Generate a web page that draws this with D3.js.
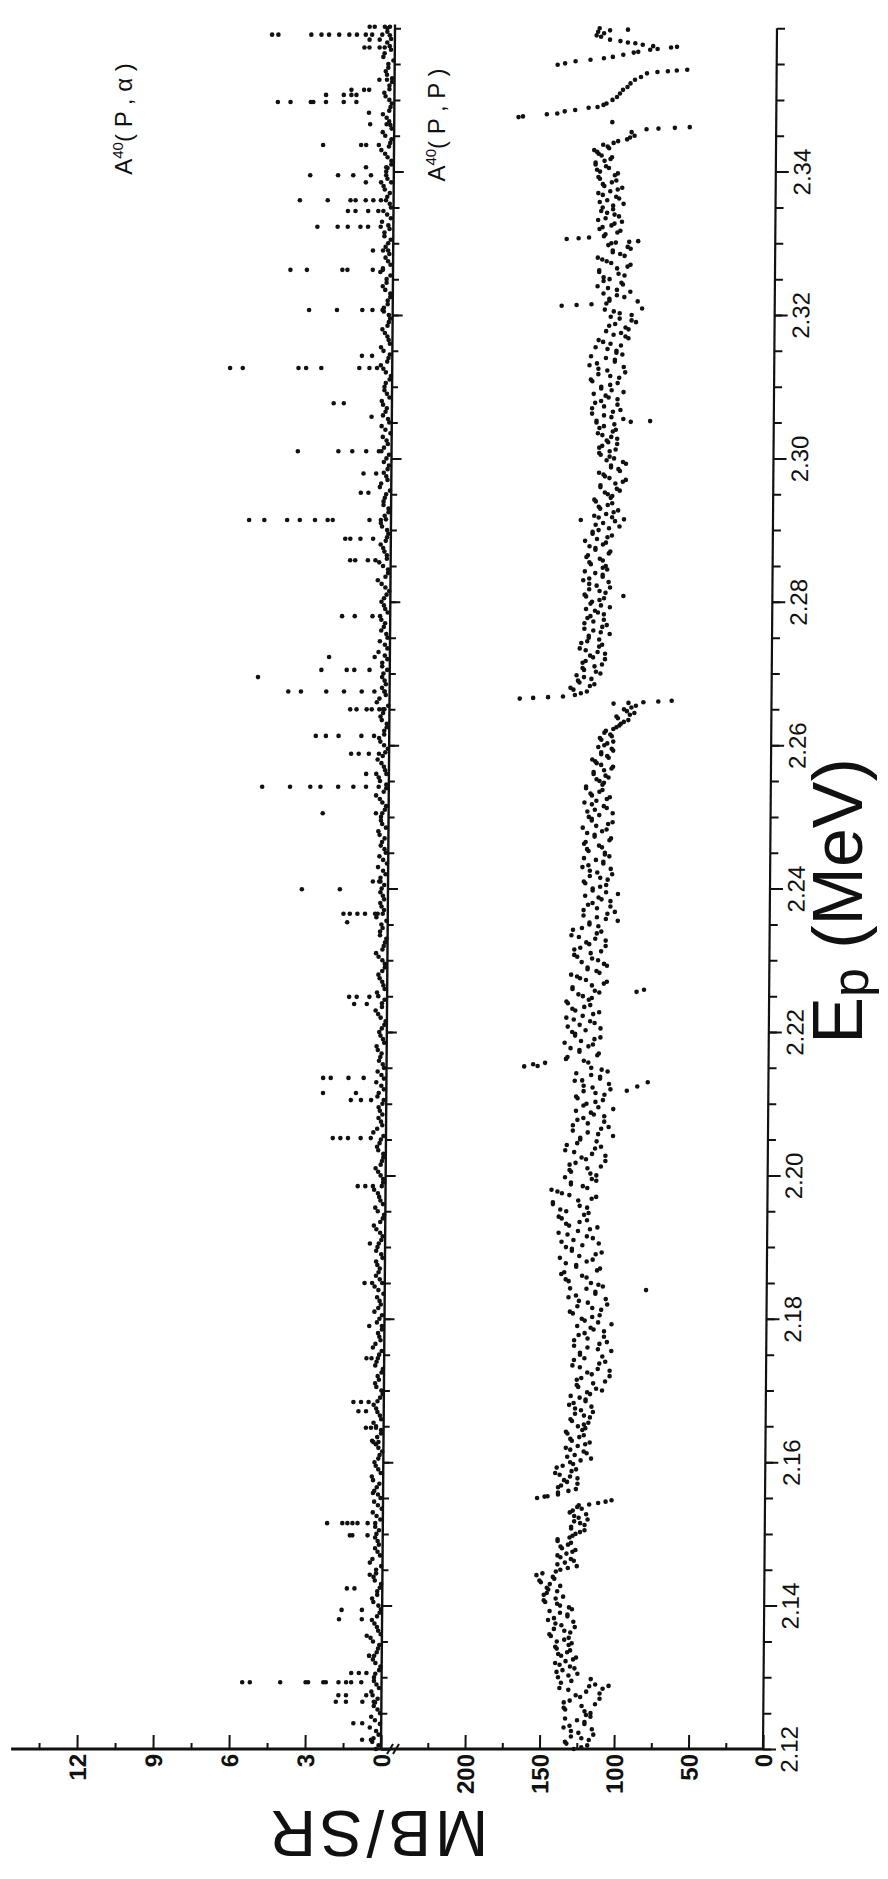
<!DOCTYPE html>
<html>
<head>
<meta charset="utf-8">
<script src="https://cdn.jsdelivr.net/npm/d3@7"></script>
<style>
  html, body { margin: 0; padding: 0; background: #fff; }
  svg { display: block; }
  text { font-family: "Liberation Sans", Arial, sans-serif; fill: #111; }
</style>
</head>
<body>
<svg id="chart" width="888" height="1879"></svg>
<script>
// ---- Axis ticks ----
const epLabels = [2.12, 2.14, 2.16, 2.18, 2.20, 2.22, 2.24, 2.26, 2.28, 2.30, 2.32, 2.34];
const alphaTicks = [0, 3, 6, 9, 12];
const alphaMinor = [1.5, 4.5, 7.5, 10.5, 13.5];
const protonTicks = [0, 50, 100, 150, 200];
const protonMinor = [25, 75, 125, 175, 225];

// ---- A40(p,α): background points close to zero, [Ep (MeV), mb/sr] ----
const alphaBackground = [
  [2.120,0.2],[2.121,0.35],[2.122,0.1],[2.123,0.45],[2.124,0.25],[2.125,0.05],[2.126,0.3],[2.127,0.15],[2.128,0.4],[2.129,0.2],
  [2.130,0.3],[2.131,0.1],[2.132,0.25],[2.133,0.5],[2.134,0.15],[2.135,0.35],[2.136,0.05],[2.137,0.2],[2.138,0.4],[2.139,0.1],
  [2.140,0.15],[2.141,0.4],[2.142,0.2],[2.143,0.05],[2.144,0.35],[2.145,0.25],[2.146,0.5],[2.147,0.1],[2.148,0.3],[2.149,0.2],
  [2.150,0.25],[2.151,0.3],[2.152,0.1],[2.153,0.4],[2.154,0.2],[2.155,0.1],[2.156,0.35],[2.157,0.15],[2.158,0.45],[2.159,0.2],
  [2.160,0.35],[2.161,0.15],[2.162,0.2],[2.163,0.45],[2.164,0.1],[2.165,0.3],[2.166,0.1],[2.167,0.25],[2.168,0.4],[2.169,0.15],
  [2.170,0.1],[2.171,0.35],[2.172,0.25],[2.173,0.05],[2.174,0.3],[2.175,0.2],[2.176,0.45],[2.177,0.15],[2.178,0.25],[2.179,0.1],
  [2.180,0.2],[2.181,0.4],[2.182,0.15],[2.183,0.3],[2.184,0.25],[2.185,0.1],[2.186,0.35],[2.187,0.2],[2.188,0.35],[2.189,0.15],
  [2.190,0.3],[2.191,0.15],[2.192,0.2],[2.193,0.45],[2.194,0.1],[2.195,0.3],[2.196,0.1],[2.197,0.25],[2.198,0.45],[2.199,0.1],
  [2.200,0.2],[2.201,0.4],[2.202,0.15],[2.203,0.1],[2.204,0.35],[2.205,0.2],[2.206,0.5],[2.207,0.15],[2.208,0.3],[2.209,0.25],
  [2.210,0.15],[2.211,0.35],[2.212,0.1],[2.213,0.4],[2.214,0.2],[2.215,0.1],[2.216,0.3],[2.217,0.2],[2.218,0.4],[2.219,0.15],
  [2.220,0.3],[2.221,0.1],[2.222,0.25],[2.223,0.45],[2.224,0.2],[2.225,0.35],[2.226,0.1],[2.227,0.2],[2.228,0.35],[2.229,0.1],
  [2.230,0.2],[2.231,0.45],[2.232,0.15],[2.233,0.05],[2.234,0.3],[2.235,0.25],[2.236,0.45],[2.237,0.15],[2.238,0.3],[2.239,0.2],
  [2.240,0.25],[2.241,0.35],[2.242,0.1],[2.243,0.4],[2.244,0.2],[2.245,0.1],[2.246,0.3],[2.247,0.15],[2.248,0.4],[2.249,0.25],
  [2.250,0.3],[2.251,0.15],[2.252,0.25],[2.253,0.5],[2.254,0.1],[2.255,0.35],[2.256,0.1],[2.257,0.2],[2.258,0.45],[2.259,0.15],
  [2.260,0.2],[2.261,0.4],[2.262,0.2],[2.263,0.1],[2.264,0.35],[2.265,0.25],[2.266,0.5],[2.267,0.15],[2.268,0.3],[2.269,0.2],
  [2.270,0.25],[2.271,0.3],[2.272,0.1],[2.273,0.45],[2.274,0.2],[2.275,0.1],[2.276,0.35],[2.277,0.2],[2.278,0.4],[2.279,0.2],
  [2.280,0.35],[2.281,0.15],[2.282,0.2],[2.283,0.5],[2.284,0.1],[2.285,0.3],[2.286,0.15],[2.287,0.25],[2.288,0.4],[2.289,0.15],
  [2.290,0.15],[2.291,0.4],[2.292,0.25],[2.293,0.1],[2.294,0.3],[2.295,0.2],[2.296,0.45],[2.297,0.15],[2.298,0.3],[2.299,0.1],
  [2.300,0.2],[2.301,0.4],[2.302,0.15],[2.303,0.35],[2.304,0.25],[2.305,0.1],[2.306,0.35],[2.307,0.2],[2.308,0.4],[2.309,0.2],
  [2.310,0.3],[2.311,0.1],[2.312,0.25],[2.313,0.45],[2.314,0.15],[2.315,0.35],[2.316,0.1],[2.317,0.2],[2.318,0.4],[2.319,0.15],
  [2.320,0.15],[2.321,0.35],[2.322,0.2],[2.323,0.1],[2.324,0.4],[2.325,0.25],[2.326,0.5],[2.327,0.1],[2.328,0.3],[2.329,0.2],
  [2.330,0.2],[2.331,0.35],[2.332,0.15],[2.333,0.45],[2.334,0.25],[2.335,0.1],[2.336,0.3],[2.337,0.15],[2.338,0.4],[2.339,0.25],
  [2.340,0.3],[2.341,0.1],[2.342,0.25],[2.343,0.5],[2.344,0.15],[2.345,0.35],[2.346,0.1],[2.347,0.2],[2.348,0.45],[2.349,0.15],
  [2.350,0.2],[2.351,0.4],[2.352,0.2],[2.353,0.1],[2.354,0.35],[2.355,0.25],[2.356,0.45],[2.357,0.15],[2.358,0.3],[2.359,0.2],
  [2.360,0.3]
];

// Background readings taken between the points above
const alphaBackgroundMid = [
  [2.1205,0.1],[2.1215,0.3],[2.1225,0.2],[2.1235,0.05],[2.1245,0.4],[2.1255,0.15],[2.1265,0.25],[2.1275,0.35],[2.1285,0.1],[2.1295,0.3],
  [2.1305,0.25],[2.1315,0.05],[2.1325,0.35],[2.1335,0.2],[2.1345,0.1],[2.1355,0.45],[2.1365,0.15],[2.1375,0.3],[2.1385,0.2],[2.1395,0.05],
  [2.1405,0.35],[2.1415,0.2],[2.1425,0.1],[2.1435,0.3],[2.1445,0.25],[2.1455,0.05],[2.1465,0.4],[2.1475,0.2],[2.1485,0.15],[2.1495,0.3],
  [2.1505,0.15],[2.1515,0.3],[2.1525,0.25],[2.1535,0.05],[2.1545,0.35],[2.1555,0.2],[2.1565,0.25],[2.1575,0.4],[2.1585,0.1],[2.1595,0.3],
  [2.1605,0.2],[2.1615,0.05],[2.1625,0.3],[2.1635,0.25],[2.1645,0.1],[2.1655,0.4],[2.1665,0.15],[2.1675,0.3],[2.1685,0.25],[2.1695,0.05],
  [2.1705,0.3],[2.1715,0.2],[2.1725,0.1],[2.1735,0.35],[2.1745,0.25],[2.1755,0.1],[2.1765,0.35],[2.1775,0.2],[2.1785,0.1],[2.1795,0.3],
  [2.1805,0.1],[2.1815,0.25],[2.1825,0.2],[2.1835,0.05],[2.1845,0.4],[2.1855,0.2],[2.1865,0.25],[2.1875,0.3],[2.1885,0.1],[2.1895,0.35],
  [2.1905,0.25],[2.1915,0.1],[2.1925,0.35],[2.1935,0.2],[2.1945,0.05],[2.1955,0.4],[2.1965,0.2],[2.1975,0.3],[2.1985,0.15],[2.1995,0.1],
  [2.2005,0.3],[2.2015,0.2],[2.2025,0.1],[2.2035,0.3],[2.2045,0.25],[2.2055,0.1],[2.2065,0.35],[2.2075,0.2],[2.2085,0.15],[2.2095,0.3],
  [2.2105,0.1],[2.2115,0.3],[2.2125,0.2],[2.2135,0.1],[2.2145,0.35],[2.2155,0.15],[2.2165,0.25],[2.2175,0.35],[2.2185,0.1],[2.2195,0.25],
  [2.2205,0.2],[2.2215,0.05],[2.2225,0.35],[2.2235,0.2],[2.2245,0.1],[2.2255,0.4],[2.2265,0.15],[2.2275,0.3],[2.2285,0.2],[2.2295,0.1],
  [2.2305,0.35],[2.2315,0.2],[2.2325,0.1],[2.2335,0.3],[2.2345,0.2],[2.2355,0.05],[2.2365,0.4],[2.2375,0.25],[2.2385,0.15],[2.2395,0.3],
  [2.2405,0.15],[2.2415,0.3],[2.2425,0.2],[2.2435,0.05],[2.2445,0.35],[2.2455,0.15],[2.2465,0.25],[2.2475,0.35],[2.2485,0.1],[2.2495,0.3],
  [2.2505,0.25],[2.2515,0.1],[2.2525,0.35],[2.2535,0.2],[2.2545,0.1],[2.2555,0.4],[2.2565,0.15],[2.2575,0.3],[2.2585,0.25],[2.2595,0.05],
  [2.2605,0.35],[2.2615,0.2],[2.2625,0.1],[2.2635,0.3],[2.2645,0.25],[2.2655,0.05],[2.2665,0.4],[2.2675,0.2],[2.2685,0.15],[2.2695,0.3],
  [2.2705,0.1],[2.2715,0.3],[2.2725,0.2],[2.2735,0.1],[2.2745,0.4],[2.2755,0.15],[2.2765,0.25],[2.2775,0.35],[2.2785,0.1],[2.2795,0.25],
  [2.2805,0.25],[2.2815,0.05],[2.2825,0.35],[2.2835,0.2],[2.2845,0.1],[2.2855,0.45],[2.2865,0.15],[2.2875,0.3],[2.2885,0.2],[2.2895,0.1],
  [2.2905,0.35],[2.2915,0.2],[2.2925,0.1],[2.2935,0.3],[2.2945,0.25],[2.2955,0.05],[2.2965,0.4],[2.2975,0.2],[2.2985,0.15],[2.2995,0.3],
  [2.3005,0.1],[2.3015,0.3],[2.3025,0.2],[2.3035,0.05],[2.3045,0.4],[2.3055,0.15],[2.3065,0.25],[2.3075,0.35],[2.3085,0.1],[2.3095,0.3],
  [2.3105,0.25],[2.3115,0.05],[2.3125,0.35],[2.3135,0.2],[2.3145,0.1],[2.3155,0.45],[2.3165,0.15],[2.3175,0.3],[2.3185,0.2],[2.3195,0.1],
  [2.3205,0.35],[2.3215,0.2],[2.3225,0.1],[2.3235,0.3],[2.3245,0.25],[2.3255,0.1],[2.3265,0.4],[2.3275,0.2],[2.3285,0.15],[2.3295,0.3],
  [2.3305,0.1],[2.3315,0.35],[2.3325,0.2],[2.3335,0.1],[2.3345,0.4],[2.3355,0.15],[2.3365,0.25],[2.3375,0.35],[2.3385,0.1],[2.3395,0.3],
  [2.3405,0.25],[2.3415,0.1],[2.3425,0.35],[2.3435,0.2],[2.3445,0.1],[2.3455,0.45],[2.3465,0.15],[2.3475,0.3],[2.3485,0.2],[2.3495,0.1],
  [2.3505,0.35],[2.3515,0.2],[2.3525,0.1],[2.3535,0.3],[2.3545,0.25],[2.3555,0.05],[2.3565,0.4],[2.3575,0.2],[2.3585,0.15],[2.3595,0.3]
];

// ---- A40(p,α): resonance excursions, [Ep (MeV), [mb/sr readings]] ----
const alphaResonances = [
  [2.1213,[0.75,0.4]], [2.1236,[1.1,0.75]], [2.1266,[1.8,1.4,0.75,0.3]], [2.1275,[1.7,1.4,0.6]],
  [2.1293,[5.5,5.2,4.0,3.0,2.9,2.3,2.2,1.7,1.4,1.2,0.8]], [2.1306,[1.2,0.9,0.6]], [2.1330,[0.5,0.3]],
  [2.1358,[0.6]], [2.1381,[1.7,0.8]], [2.1394,[1.6,0.8]], [2.1424,[1.4,1.1]], [2.1443,[0.5]],
  [2.1498,[1.3,1.2,0.6]], [2.1515,[2.2,1.6,1.4,1.2,1.0,0.6]], [2.1557,[0.4]], [2.1628,[0.4,0.2]],
  [2.1648,[0.7,0.5,0.3]], [2.1671,[1.0,0.7]], [2.1684,[1.2,0.9,0.6]], [2.1745,[0.7,0.5]],
  [2.1790,[0.6]], [2.1850,[0.8,0.5]], [2.1905,[0.6]], [2.1985,[1.1,0.8,0.5]],
  [2.2052,[2.1,1.8,1.5,1.0,0.6]], [2.2105,[1.4,1.0,0.6]], [2.2115,[2.5,1.2]], [2.2136,[2.5,2.2,1.5,0.9]],
  [2.2239,[1.3,0.8]], [2.2249,[1.5,1.2,0.7]], [2.2353,[1.6]], [2.2365,[1.75,1.5,1.2,0.9,0.5,0.2]],
  [2.2399,[3.4,1.9]], [2.2410,[0.6,0.3]], [2.2505,[2.6,0.5]], [2.2542,[5.0,3.9,3.1,2.7,2.0,1.4,0.9,0.4]],
  [2.2560,[0.9,0.5]], [2.2588,[1.5,1.2,0.8,0.4]], [2.2613,[2.9,2.5,2.0,1.1,0.6]],
  [2.2650,[1.55,1.3,0.9,0.7,0.4,0.2]], [2.2675,[4.0,3.5,2.5,1.8,1.1,0.6,0.2]], [2.2695,[5.2]],
  [2.2705,[2.7,1.7,1.4,0.8]], [2.2723,[2.4,0.6]], [2.2780,[1.9,1.4,0.7]], [2.2858,[1.6,1.4,0.9,0.6]],
  [2.2888,[1.8,1.6,1.2,0.7]], [2.2914,[5.6,5.0,4.1,3.6,3.0,2.5,2.3,0.85,0.4]], [2.2952,[1.2,0.9]],
  [2.2979,[1.1,0.6]], [2.3010,[3.7,2.1,1.55,1.0,0.5]], [2.3058,[0.8]], [2.3077,[2.3,1.9]],
  [2.3126,[6.4,5.9,3.7,3.4,2.8,1.3,0.9,0.6]], [2.3143,[1.2,0.8]], [2.3207,[3.3,2.2,1.2,0.8,0.4]],
  [2.3263,[4.05,3.4,2.0,1.8,0.8,0.4]], [2.3290,[0.8,0.4]], [2.3323,[3.0,2.2,1.8,1.3,1.0,0.5]],
  [2.3345,[1.8,1.5,1.0,0.6]], [2.3360,[3.7,2.6,1.7,1.5,1.1,0.8,0.5]], [2.3385,[1.1,0.5]],
  [2.3395,[3.3,2.2,1.6,0.9]], [2.3406,[1.1,0.3]], [2.3437,[2.8,1.3,1.1,0.6]], [2.3466,[0.95,0.3]],
  [2.3482,[1.0]], [2.3497,[4.6,4.1,3.3,3.2,2.7,2.0,1.5]], [2.3507,[2.7,2.0,1.7,1.5]],
  [2.3514,[1.7,1.2,1.0]], [2.3528,[0.6,0.3]], [2.3573,[1.2,1.0,0.6,0.4]], [2.3584,[1.0,0.6]],
  [2.3591,[4.85,4.6,3.3,2.9,2.6,2.2,1.8,1.5,1.15,0.9,0.5]], [2.3602,[1.0,0.8,0.4,0.2]]
];

// ---- A40(p,p): elastic yield, [Ep (MeV), mb/sr] ----
const protonYield = [
  [2.1200,127],[2.1205,118],[2.1210,133],[2.1215,122],[2.1220,114],[2.1225,129],[2.1230,134],[2.1235,120],[2.1240,125],[2.1245,116],
  [2.1250,116],[2.1255,133],[2.1260,122],[2.1265,134],[2.1270,110],[2.1275,126],[2.1280,119],[2.1284,108],[2.1285,137],[2.1288,104],[2.1290,113],[2.1295,129],
  [2.1300,138],[2.1305,125],[2.1310,135],[2.1315,130],[2.1320,140],[2.1325,128],[2.1330,136],[2.1335,132],[2.1340,139],[2.1345,131],
  [2.1350,139],[2.1355,131],[2.1360,144],[2.1365,134],[2.1370,127],[2.1375,140],[2.1380,145],[2.1385,132],[2.1390,137],[2.1395,129],
  [2.1400,137],[2.1405,147],[2.1410,140],[2.1415,148],[2.1420,139],[2.1425,146],[2.1430,144],[2.1435,151],[2.1440,142],[2.1445,149],
  [2.1450,137],[2.1455,126],[2.1460,134],[2.1465,130],[2.1470,139],[2.1475,129],[2.1480,136],[2.1485,132],[2.1490,139],[2.1495,131],
  [2.1500,127],[2.1505,121],[2.1510,130],[2.1515,124],[2.1520,119],[2.1525,128],[2.1530,131],[2.1535,123],[2.1540,125],[2.1541,118],[2.1543,112],[2.1545,107],[2.1547,103],
  [2.1550,153],[2.1552,148],[2.1555,139],[2.1560,132],[2.1565,139],[2.1570,126],[2.1575,135],[2.1580,131],[2.1585,141],[2.1590,127],[2.1595,136],
  [2.1600,131],[2.1605,117],[2.1610,128],[2.1615,122],[2.1620,134],[2.1625,121],[2.1630,130],[2.1635,125],[2.1640,133],[2.1645,123],
  [2.1650,126],[2.1655,119],[2.1660,131],[2.1665,122],[2.1670,116],[2.1675,128],[2.1680,132],[2.1685,121],[2.1690,125],[2.1695,118],
  [2.1700,110],[2.1705,126],[2.1710,116],[2.1715,127],[2.1720,105],[2.1725,120],[2.1730,113],[2.1735,130],[2.1740,108],[2.1745,122],
  [2.1750,125],[2.1755,104],[2.1760,120],[2.1765,112],[2.1770,129],[2.1775,109],[2.1780,122],[2.1785,116],[2.1790,127],[2.1795,113],
  [2.1800,124],[2.1805,112],[2.1810,132],[2.1815,117],[2.1820,107],[2.1825,126],[2.1830,133],[2.1835,115],[2.1840,81],[2.1842,121],[2.1845,110],
  [2.1850,118],[2.1855,135],[2.1860,124],[2.1865,136],[2.1870,112],[2.1875,128],[2.1880,121],[2.1885,139],[2.1890,115],[2.1895,131],
  [2.1900,135],[2.1905,113],[2.1910,130],[2.1915,121],[2.1920,140],[2.1925,119],[2.1930,133],[2.1935,126],[2.1940,138],[2.1945,123],
  [2.1950,135],[2.1955,121],[2.1960,144],[2.1965,127],[2.1970,115],[2.1975,138],[2.1980,145],[2.1985,124],[2.1990,132],[2.1995,118],
  [2.2000,115],[2.2005,132],[2.2010,121],[2.2015,133],[2.2020,109],[2.2025,125],[2.2030,118],[2.2035,136],[2.2040,112],[2.2045,128],
  [2.2050,126],[2.2055,104],[2.2060,121],[2.2065,112],[2.2070,131],[2.2075,110],[2.2080,124],[2.2085,117],[2.2090,129],[2.2095,114],
  [2.2100,122],[2.2105,111],[2.2110,129],[2.2115,116],[2.2118,95],[2.2120,106],[2.2124,88],[2.2125,124],[2.2130,81],[2.2132,130],[2.2135,113],[2.2140,119],[2.2145,108],
  [2.2150,119],[2.2152,164],[2.2155,158],[2.2157,150],[2.2160,124],[2.2165,135],[2.2170,114],[2.2175,127],[2.2180,121],[2.2185,137],[2.2190,117],[2.2195,130],
  [2.2200,132],[2.2205,113],[2.2210,127],[2.2215,120],[2.2220,136],[2.2225,118],[2.2230,130],[2.2235,124],[2.2240,135],[2.2245,121],
  [2.2250,125],[2.2255,114],[2.2256,89],[2.2259,84],[2.2260,132],[2.2265,119],[2.2270,109],[2.2275,127],[2.2280,133],[2.2285,116],[2.2290,122],[2.2295,111],
  [2.2300,115],[2.2305,129],[2.2310,120],[2.2315,131],[2.2320,110],[2.2325,123],[2.2330,117],[2.2335,133],[2.2340,113],[2.2345,126],
  [2.2350,121],[2.2355,102],[2.2360,116],[2.2365,109],[2.2370,125],[2.2375,107],[2.2380,119],[2.2385,113],[2.2390,124],[2.2395,110],
  [2.2400,119],[2.2405,110],[2.2410,125],[2.2415,114],[2.2420,106],[2.2425,121],[2.2430,126],[2.2435,112],[2.2440,117],[2.2445,108],
  [2.2450,111],[2.2455,123],[2.2460,115],[2.2465,124],[2.2470,107],[2.2475,118],[2.2480,113],[2.2485,126],[2.2490,109],[2.2495,120],
  [2.2500,122],[2.2505,106],[2.2510,118],[2.2515,112],[2.2520,125],[2.2525,110],[2.2530,120],[2.2535,115],[2.2540,124],[2.2545,113],
  [2.2550,115],[2.2555,109],[2.2560,119],[2.2565,112],[2.2570,106],[2.2575,117],[2.2580,120],[2.2585,110],[2.2590,114],[2.2595,107],
  [2.2600,112],[2.2605,106],[2.2610,115],[2.2615,108],[2.2620,111],[2.2625,104],[2.2630,101],[2.2635,96],[2.2640,104],[2.2645,92],
  [2.2650,99],[2.2655,91],[2.2658,106],[2.2659,96],[2.2660,86],[2.2661,76],[2.2662,67],[2.2665,169],[2.2666,160],[2.2667,150],[2.2668,140],
  [2.2670,132],[2.2675,124],[2.2680,135],[2.2685,119],[2.2690,130],[2.2695,126],
  [2.2700,115],[2.2705,126],[2.2710,119],[2.2715,127],[2.2720,112],[2.2725,122],[2.2730,117],[2.2735,129],[2.2740,114],[2.2745,124],
  [2.2750,123],[2.2755,109],[2.2760,120],[2.2765,114],[2.2770,126],[2.2775,113],[2.2780,122],[2.2785,117],[2.2790,125],[2.2795,115],
  [2.2800,121],[2.2805,113],[2.2808,100],[2.2810,126],[2.2815,116],[2.2820,109],[2.2825,123],[2.2830,127],[2.2835,114],[2.2840,119],[2.2845,111],
  [2.2850,112],[2.2855,123],[2.2860,116],[2.2865,124],[2.2870,109],[2.2875,119],[2.2880,114],[2.2885,126],[2.2890,111],[2.2895,121],
  [2.2900,117],[2.2905,103],[2.2910,114],[2.2914,129],[2.2915,100],[2.2918,108],[2.2920,120],[2.2925,107],[2.2930,116],[2.2935,111],[2.2940,119],[2.2945,109],
  [2.2950,111],[2.2955,103],[2.2960,116],[2.2965,106],[2.2970,99],[2.2975,113],[2.2980,117],[2.2985,104],[2.2990,109],[2.2995,101],
  [2.3000,107],[2.3005,116],[2.3010,110],[2.3015,117],[2.3020,105],[2.3025,112],[2.3030,109],[2.3035,118],[2.3040,106],[2.3045,114],
  [2.3050,119],[2.3051,96],[2.3052,83],[2.3055,101],[2.3060,114],[2.3065,108],[2.3070,122],[2.3075,105],[2.3080,116],[2.3085,111],[2.3090,121],[2.3095,109],
  [2.3100,116],[2.3105,105],[2.3110,123],[2.3115,110],[2.3120,100],[2.3125,118],[2.3130,124],[2.3135,107],[2.3140,113],[2.3145,102],
  [2.3150,106],[2.3155,120],[2.3160,110],[2.3165,118],[2.3170,100],[2.3175,103],[2.3180,98],[2.3185,111],[2.3190,93],[2.3195,104],
  [2.3200,96],[2.3205,108],[2.3209,89],[2.3213,143],[2.3214,133],[2.3215,123],[2.3216,113],[2.3219,92],[2.3220,111],[2.3225,101],[2.3230,115],[2.3235,106],[2.3240,119],[2.3245,103],
  [2.3250,111],[2.3255,101],[2.3260,118],[2.3265,106],[2.3270,97],[2.3275,113],[2.3280,119],[2.3285,104],[2.3290,109],[2.3295,99],
  [2.3300,110],[2.3301,107],[2.3302,98],[2.3303,92],[2.3306,140],[2.3307,132],[2.3308,125],[2.3310,115],[2.3315,106],[2.3320,118],[2.3325,110],[2.3330,103],[2.3335,114],[2.3340,108],[2.3345,117],
  [2.3350,116],[2.3355,102],[2.3360,113],[2.3365,107],[2.3370,119],[2.3375,106],[2.3380,115],[2.3385,110],[2.3390,118],[2.3395,108],
  [2.3400,118],[2.3405,112],[2.3410,121],[2.3415,115],[2.3420,110],[2.3425,119],[2.3430,122],[2.3435,113],[2.3440,109],[2.3445,100],
  [2.3450,95],[2.3455,97],[2.3459,87],[2.3460,79],[2.3461,68],[2.3462,58],[2.3469,110],[2.3476,173],[2.3477,170],[2.3480,154],[2.3481,147],
  [2.3484,142],[2.3486,135],[2.3489,126],[2.3490,120],[2.3493,116],[2.3495,114],
  [2.3500,110],[2.3504,107],[2.3509,105],[2.3514,103],[2.3518,100],[2.3523,98],[2.3528,95],[2.3532,91],[2.3537,87],[2.3539,80],[2.3540,73],[2.3541,67],[2.3542,60],
  [2.3549,147],[2.3551,142],[2.3554,135],[2.3556,125],[2.3558,116],[2.3560,110],[2.3563,103],[2.3566,96],[2.3567,93],[2.3570,85],[2.3571,80],[2.3573,71],[2.3574,67],
  [2.3575,83],[2.3577,90],[2.3579,95],[2.3580,100],[2.3582,105],[2.3584,112],[2.3588,118],[2.3590,121],[2.3593,116],[2.3595,120],[2.3597,112],[2.3598,100],[2.3600,119]
];

// Elastic readings taken between the points above
const protonYieldMid = [
  [2.12025,122],[2.12075,132],[2.12125,117],[2.12175,129],[2.12225,124],[2.12275,115],[2.12325,130],[2.12375,120],[2.12425,133],[2.12475,119],
  [2.12525,120],[2.12575,134],[2.12625,113],[2.12675,130],[2.12725,123],[2.12775,110],[2.12825,131],[2.12875,117],[2.12925,136],[2.12975,116],
  [2.13025,131],[2.13075,139],[2.13125,127],[2.13175,137],[2.13225,133],[2.13275,126],[2.13325,138],[2.13375,130],[2.13425,140],[2.13475,129],
  [2.13525,134],[2.13575,143],[2.13625,130],[2.13675,141],[2.13725,136],[2.13775,128],[2.13825,141],[2.13875,132],[2.13925,144],[2.13975,131],
  [2.14025,139],[2.14075,148],[2.14125,135],[2.14175,146],[2.14225,145],[2.14275,137],[2.14325,150],[2.14375,141],[2.14425,153],[2.14475,140],
  [2.14525,132],[2.14575,139],[2.14625,128],[2.14675,137],[2.14725,133],[2.14775,127],[2.14825,137],[2.14875,130],[2.14925,139],[2.14975,129],
  [2.15025,124],[2.15075,130],[2.15125,121],[2.15175,128],[2.15225,125],[2.15275,120],[2.15325,129],[2.15375,126],
  [2.15525,146],[2.15575,139],[2.15625,127],[2.15675,137],[2.15725,133],[2.15775,126],[2.15825,138],[2.15875,130],[2.15925,140],[2.15975,129],
  [2.16025,124],[2.16075,133],[2.16125,120],[2.16175,131],[2.16225,126],[2.16275,118],[2.16325,131],[2.16375,122],[2.16425,134],[2.16475,121],
  [2.16525,122],[2.16575,130],[2.16625,118],[2.16675,128],[2.16725,124],[2.16775,117],[2.16825,129],[2.16875,121],[2.16925,131],[2.16975,120],
  [2.17025,114],[2.17075,127],[2.17125,108],[2.17175,124],[2.17225,117],[2.17275,105],[2.17325,125],[2.17375,112],[2.17425,129],[2.17475,110],
  [2.17525,125],[2.17575,113],[2.17625,129],[2.17675,107],[2.17725,120],[2.17775,126],[2.17825,109],[2.17875,118],[2.17925,104],[2.17975,122],
  [2.18025,117],[2.18075,130],[2.18125,111],[2.18175,127],[2.18225,120],[2.18275,108],[2.18325,128],[2.18375,115],[2.18425,132],[2.18475,113],
  [2.18525,133],[2.18575,121],[2.18625,138],[2.18675,114],[2.18725,128],[2.18775,135],[2.18825,117],[2.18875,126],[2.18925,111],[2.18975,131],
  [2.19025,124],[2.19075,138],[2.19125,117],[2.19175,134],[2.19225,127],[2.19275,114],[2.19325,135],[2.19375,121],[2.19425,140],[2.19475,120],
  [2.19525,139],[2.19575,126],[2.19625,144],[2.19675,118],[2.19725,133],[2.19775,141],[2.19825,121],[2.19875,132],[2.19925,115],[2.19975,136],
  [2.20025,119],[2.20075,133],[2.20125,112],[2.20175,129],[2.20225,122],[2.20275,109],[2.20325,130],[2.20375,116],[2.20425,135],[2.20475,115],
  [2.20525,126],[2.20575,114],[2.20625,131],[2.20675,107],[2.20725,121],[2.20775,128],[2.20825,110],[2.20875,119],[2.20925,104],[2.20975,124],
  [2.21025,116],[2.21075,128],[2.21125,110],[2.21175,124],[2.21225,118],[2.21275,107],[2.21325,125],[2.21375,113],[2.21425,129],[2.21475,112],
  [2.21525,155],[2.21575,121],[2.21625,136],[2.21675,115],[2.21725,127],[2.21775,133],[2.21825,118],[2.21875,126],[2.21925,113],[2.21975,130],
  [2.22025,123],[2.22075,135],[2.22125,117],[2.22175,131],[2.22225,125],[2.22275,114],[2.22325,132],[2.22375,120],[2.22425,136],[2.22475,119],
  [2.22525,128],[2.22575,117],[2.22625,132],[2.22675,111],[2.22725,123],[2.22775,129],[2.22825,114],[2.22875,122],[2.22925,109],[2.22975,126],
  [2.23025,119],[2.23075,131],[2.23125,113],[2.23175,127],[2.23225,121],[2.23275,110],[2.23325,128],[2.23375,116],[2.23425,132],[2.23475,115],
  [2.23525,121],[2.23575,110],[2.23625,125],[2.23675,104],[2.23725,116],[2.23775,122],[2.23825,107],[2.23875,115],[2.23925,102],[2.23975,119],
  [2.24025,114],[2.24075,124],[2.24125,109],[2.24175,121],[2.24225,116],[2.24275,107],[2.24325,122],[2.24375,112],[2.24425,125],[2.24475,111],
  [2.24525,122],[2.24575,113],[2.24625,125],[2.24675,108],[2.24725,118],[2.24775,123],[2.24825,110],[2.24875,117],[2.24925,106],[2.24975,120],
  [2.25025,115],[2.25075,123],[2.25125,110],[2.25175,120],[2.25225,117],[2.25275,108],[2.25325,121],[2.25375,113],[2.25425,124],[2.25475,112],
  [2.25525,117],[2.25575,111],[2.25625,119],[2.25675,107],[2.25725,114],[2.25775,118],[2.25825,109],[2.25875,114],[2.25925,106],[2.25975,116],
  [2.26025,110],[2.26075,114],[2.26125,107],[2.26175,112],[2.26225,106],[2.26275,102],[2.26325,99],[2.26375,103],[2.26425,95],[2.26475,97],
  [2.26525,94],[2.26725,128],[2.26775,133],[2.26825,122],[2.26875,129],[2.26925,121],[2.26975,131],
  [2.27025,118],[2.27075,127],[2.27125,114],[2.27175,125],[2.27225,120],[2.27275,112],[2.27325,125],[2.27375,116],[2.27425,128],[2.27475,116],
  [2.27525,123],[2.27575,115],[2.27625,126],[2.27675,111],[2.27725,120],[2.27775,124],[2.27825,113],[2.27875,119],[2.27925,109],[2.27975,122],
  [2.28025,116],[2.28075,125],[2.28125,112],[2.28175,123],[2.28225,118],[2.28275,110],[2.28325,123],[2.28375,114],[2.28425,126],[2.28475,114],
  [2.28525,122],[2.28575,114],[2.28625,125],[2.28675,110],[2.28725,119],[2.28775,123],[2.28825,112],[2.28875,118],[2.28925,108],[2.28975,121],
  [2.29025,110],[2.29075,119],[2.29125,106],[2.29175,117],[2.29225,112],[2.29275,104],[2.29325,117],[2.29375,108],[2.29425,120],[2.29475,108],
  [2.29525,113],[2.29575,105],[2.29625,116],[2.29675,101],[2.29725,110],[2.29775,114],[2.29825,103],[2.29875,109],[2.29925,99],[2.29975,112],
  [2.30025,110],[2.30075,117],[2.30125,106],[2.30175,115],[2.30225,111],[2.30275,105],[2.30325,115],[2.30375,108],[2.30425,117],[2.30475,107],
  [2.30525,119],[2.30575,109],[2.30625,122],[2.30675,103],[2.30725,114],[2.30775,120],[2.30825,105],[2.30875,113],[2.30925,101],[2.30975,116],
  [2.31025,110],[2.31075,122],[2.31125,104],[2.31175,118],[2.31225,112],[2.31275,101],[2.31325,119],[2.31375,107],[2.31425,123],[2.31475,106],
  [2.31525,112],[2.31575,103],[2.31625,115],[2.31675,98],[2.31725,108],[2.31775,113],[2.31825,100],[2.31875,107],[2.31925,96],[2.31975,110],
  [2.32025,104],[2.32075,114],[2.32225,111],[2.32275,106],[2.32325,97],[2.32375,112],[2.32425,102],[2.32475,115],
  [2.32525,115],[2.32575,105],[2.32625,118],[2.32675,99],[2.32725,110],[2.32775,116],[2.32825,101],[2.32875,109],[2.32925,97],[2.32975,112],
  [2.33125,114],[2.33175,104],[2.33225,116],[2.33275,108],[2.33325,119],[2.33375,105],[2.33425,113],[2.33475,109],
  [2.33525,109],[2.33575,118],[2.33625,105],[2.33675,116],[2.33725,111],[2.33775,103],[2.33825,116],[2.33875,107],[2.33925,119],[2.33975,106],
  [2.34025,120],[2.34075,114],[2.34125,121],[2.34175,111],[2.34225,117],[2.34275,120],[2.34325,112],[2.34375,116],[2.34425,106],[2.34475,98]
];

// ---- Drawing ----
const ink = "#111";
const svg = d3.select("#chart");

// Energy runs up the page; both yield scales grow to the left.
const y = d3.scaleLinear().domain([2.12, 2.36]).range([1749, 28.2]);
const xA = d3.scaleLinear().domain([0, 12]).range([381, 77]);
const xP = d3.scaleLinear().domain([0, 200]).range([763, 465]);

// The drafted frame leans very slightly; keep the bottom axis fixed and lean the rest.
const plot = svg.append("g")
  .attr("transform", `translate(0,${y(2.12)}) skewX(-0.466) translate(0,${-y(2.12)})`);

// Frame lines
plot.append("line")
  .attr("x1", xA(14.6)).attr("x2", xP(0))
  .attr("y1", y(2.12)).attr("y2", y(2.12))
  .attr("stroke", ink).attr("stroke-width", 2.8);
plot.append("line")
  .attr("x1", xA(0)).attr("x2", xA(0))
  .attr("y1", y(2.12)).attr("y2", y(2.3605))
  .attr("stroke", ink).attr("stroke-width", 2.4);
plot.append("line")
  .attr("x1", xP(0)).attr("x2", xP(0))
  .attr("y1", y(2.12)).attr("y2", y(2.36))
  .attr("stroke", ink).attr("stroke-width", 2.2);

// Axis-break mark between the two yield scales
[390, 396].forEach(bx => {
  plot.append("line")
    .attr("x1", bx - 3).attr("x2", bx + 3)
    .attr("y1", y(2.12) + 5).attr("y2", y(2.12) - 5)
    .attr("stroke", ink).attr("stroke-width", 2);
});

function styleAxis(g, width) {
  g.select(".domain").remove();
  g.attr("color", ink).attr("font-family", null).attr("font-size", null);
  g.selectAll("line").attr("stroke-width", width);
}

const epMinor = y.ticks(48);

// Energy ticks on the (p,α) zero line
plot.append("g").attr("transform", `translate(${xA(0)},0)`)
  .call(d3.axisRight(y).tickValues(epMinor).tickSize(6).tickFormat(""))
  .call(g => styleAxis(g, 2));
plot.append("g").attr("transform", `translate(${xA(0)},0)`)
  .call(d3.axisRight(y).tickValues(epLabels).tickSize(10).tickFormat(""))
  .call(g => styleAxis(g, 2));

// Energy axis on the right with labels
plot.append("g").attr("transform", `translate(${xP(0)},0)`)
  .call(d3.axisRight(y).tickValues(epMinor).tickSize(8).tickFormat(""))
  .call(g => styleAxis(g, 2));
plot.append("g").attr("transform", `translate(${xP(0)},0)`)
  .call(d3.axisRight(y).tickValues(epLabels).tickSize(13).tickFormat(d3.format(".2f")))
  .call(g => styleAxis(g, 2))
  .call(g => g.selectAll("text")
    .attr("x", 0).attr("y", 0).attr("dy", "0.36em")
    .attr("transform", "translate(26,0) rotate(-90)")
    .attr("text-anchor", "middle")
    .style("font-size", "24px"));

// Yield axes along the bottom
function bottomLabels(g) {
  g.selectAll("text")
    .attr("x", -5).attr("y", 0).attr("dy", "0.36em")
    .attr("transform", "rotate(-90)")
    .attr("text-anchor", "end")
    .style("font-size", "24px")
    .style("font-weight", "bold");
}
plot.append("g").attr("transform", `translate(0,${y(2.12)})`)
  .call(d3.axisBottom(xA).tickValues(alphaMinor).tickSize(-6).tickFormat(""))
  .call(g => styleAxis(g, 2));
plot.append("g").attr("transform", `translate(0,${y(2.12)})`)
  .call(d3.axisBottom(xA).tickValues(alphaTicks).tickSize(-14).tickFormat(d3.format("d")))
  .call(g => styleAxis(g, 2))
  .call(bottomLabels);
plot.append("g").attr("transform", `translate(0,${y(2.12)})`)
  .call(d3.axisBottom(xP).tickValues(protonMinor).tickSize(-6).tickFormat(""))
  .call(g => styleAxis(g, 2));
plot.append("g").attr("transform", `translate(0,${y(2.12)})`)
  .call(d3.axisBottom(xP).tickValues(protonTicks).tickSize(-14).tickFormat(d3.format("d")))
  .call(g => styleAxis(g, 2))
  .call(bottomLabels);

// Data points
const alphaPoints = alphaBackground.concat(alphaBackgroundMid).map(([ep, v]) => ({ ep, v }));
alphaResonances.forEach(([ep, vals]) => vals.forEach(v => alphaPoints.push({ ep, v })));

plot.append("g").selectAll("circle")
  .data(alphaPoints).join("circle")
  .attr("cx", d => xA(d.v)).attr("cy", d => y(d.ep))
  .attr("r", 2.3).attr("fill", ink);

plot.append("g").selectAll("circle")
  .data(protonYield.concat(protonYieldMid)).join("circle")
  .attr("cx", d => xP(d[1])).attr("cy", d => y(d[0]))
  .attr("r", 2.3).attr("fill", ink);

// Reaction labels
function reactionLabel(x, yc, tail) {
  const t = svg.append("text")
    .attr("transform", `translate(${x},${yc}) rotate(-90)`)
    .attr("text-anchor", "middle")
    .style("font-size", "24px");
  t.append("tspan").text("A");
  t.append("tspan").text("40").style("font-size", "15px").attr("dy", -9);
  t.append("tspan").text(tail).attr("dy", 9);
}
reactionLabel(132, 119, "( P , \u03b1 )");
reactionLabel(445, 125, "( P , P )");

// Energy title
const ep = svg.append("text")
  .attr("transform", "translate(862,901) rotate(-90)")
  .attr("text-anchor", "middle")
  .style("font-size", "70px");
ep.append("tspan").text("E");
ep.append("tspan").text("p").style("font-size", "52px").attr("dy", 6);
ep.append("tspan").text("\u00a0(MeV)").attr("dy", -6);

// Yield title, drawn upside down
svg.append("text")
  .attr("transform", "translate(377,1833) rotate(180)")
  .attr("text-anchor", "middle")
  .attr("dominant-baseline", "central")
  .style("font-size", "64px")
  .style("letter-spacing", "4px")
  .text("MB/SR");
</script>
</body>
</html>
